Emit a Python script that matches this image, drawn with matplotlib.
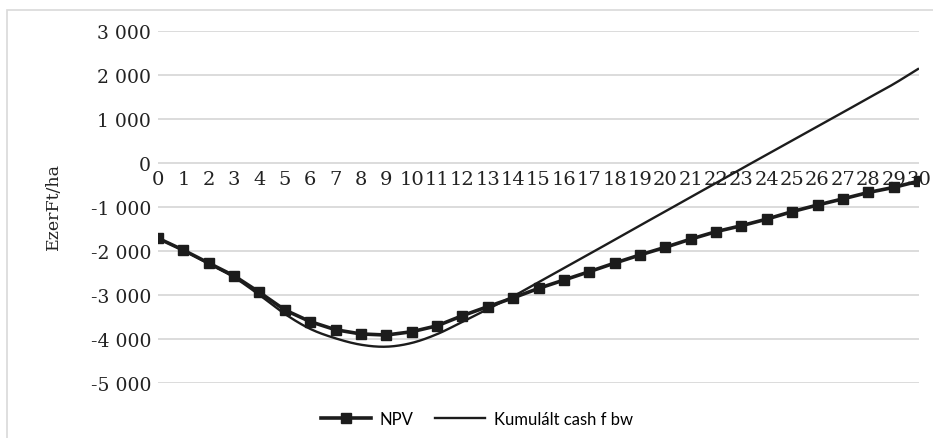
import numpy as np
import matplotlib
matplotlib.use("Agg")
import matplotlib.pyplot as plt
from matplotlib.patches import Rectangle
from matplotlib.lines import Line2D

years = list(range(0, 31))
npv = [-1710, -1980, -2275, -2565, -2940, -3340, -3605, -3790, -3885, -3910,
       -3835, -3700, -3470, -3265, -3065, -2850, -2660, -2470, -2275, -2090,
       -1915, -1730, -1560, -1425, -1275, -1105, -955, -815, -670, -555, -410]
cumulative = [-1710, -1985, -2290, -2600, -3000, -3430, -3770, -3985, -4130, -4175,
              -4090, -3890, -3610, -3320, -3030, -2710, -2390, -2070, -1745, -1420,
              -1100, -775, -455, -130, 190, 510, 830, 1150, 1475, 1795, 2150]
y_ticks = [3000, 2000, 1000, 0, -1000, -2000, -3000, -4000, -5000]
y_ticklabels = ["3 000", "2 000", "1 000", "0", "-1 000", "-2 000", "-3 000", "-4 000", "-5 000"]
series_names = ["NPV", "Kumulált cash f bw"]
y_label = "EzerFt/ha"


def catmull_rom(x, y, n=20):
    x = np.asarray(x, float)
    y = np.asarray(y, float)
    px = np.concatenate([[2 * x[0] - x[1]], x, [2 * x[-1] - x[-2]]])
    py = np.concatenate([[2 * y[0] - y[1]], y, [2 * y[-1] - y[-2]]])
    xs, ys = [], []
    t = np.linspace(0, 1, n, endpoint=False)
    for i in range(1, len(px) - 2):
        for arr, out in ((px, xs), (py, ys)):
            p0, p1, p2, p3 = arr[i - 1], arr[i], arr[i + 1], arr[i + 2]
            out.extend(0.5 * ((2 * p1) + (-p0 + p2) * t
                              + (2 * p0 - 5 * p1 + 4 * p2 - p3) * t ** 2
                              + (-p0 + 3 * p1 - 3 * p2 + p3) * t ** 3))
    xs.append(x[-1])
    ys.append(y[-1])
    return np.array(xs), np.array(ys)


W, H = 933, 439
fig = plt.figure(figsize=(W / 100, H / 100), dpi=100)
fig.patch.set_facecolor("white")

# chart-area frame
fig.add_artist(Rectangle((7 / W, -0.05), 1.2, (H - 11) / H + 0.05, transform=fig.transFigure,
                         fill=False, edgecolor="#d9d9d9", linewidth=1.2))

ax = fig.add_axes([158 / W, 1 - 384 / H, (919 - 158) / W, (384 - 32) / H])
ax.set_xlim(0, 30)
ax.set_ylim(-5000, 3000)

for v in y_ticks:
    ax.axhline(v, color="#d9d9d9", linewidth=1.3, zorder=0)

ink = "#1c1c1c"
cx, cy = catmull_rom(years, cumulative)
ax.plot(cx, cy, color=ink, linewidth=1.7, zorder=3, solid_capstyle="butt")
ax.plot(years, npv, color=ink, linewidth=2.6, marker="s", markersize=6.8, zorder=4)

for s in ["top", "right", "left"]:
    ax.spines[s].set_visible(False)
ax.spines["bottom"].set_position(("data", 0))
ax.spines["bottom"].set_visible(False)

ax.set_yticks(y_ticks)
ax.set_yticklabels(y_ticklabels, family="DejaVu Serif", fontsize=13.5, color="#222222")
ax.set_xticks(years)
ax.set_xticklabels([str(y) for y in years], family="DejaVu Serif", fontsize=14, color="#222222")
ax.tick_params(axis="both", length=0)
ax.tick_params(axis="y", pad=5)
ax.tick_params(axis="x", pad=5)

fig.text(53 / W, 1 - 207 / H, y_label, rotation=90, ha="center", va="center",
         family="DejaVu Serif", fontsize=12.5, color="#222222")

handles = [Line2D([], [], color=ink, linewidth=2.6, marker="s", markersize=6.8),
           Line2D([], [], color=ink, linewidth=1.7)]
fig.legend(handles, series_names, loc="center", bbox_to_anchor=(477 / W, 1 - 420 / H),
           ncol=2, frameon=False, prop={"family": "Lato", "size": 12},
           handlelength=3.0, columnspacing=1.3, handletextpad=0.5)

fig.savefig("out.png", dpi=100)
